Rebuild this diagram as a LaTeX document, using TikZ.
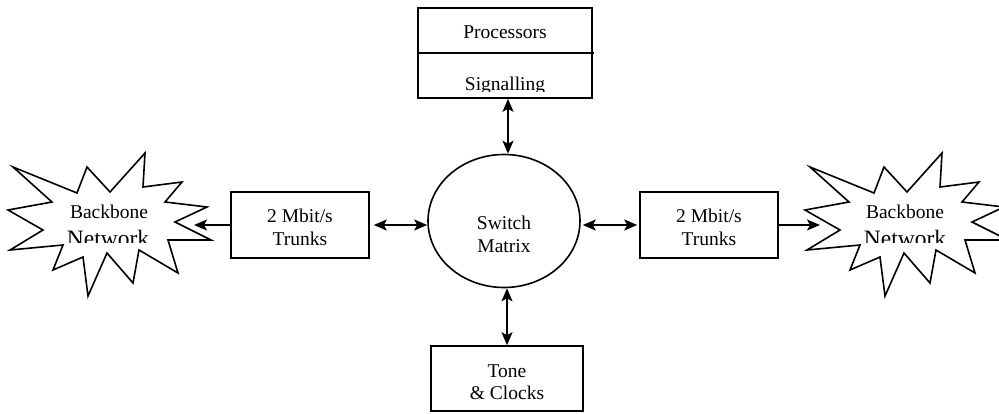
\documentclass[tikz,border=0pt]{standalone}
\usepackage{fontspec}
\setmainfont{Liberation Serif}
\usetikzlibrary{shapes.geometric,arrows.meta}
\def\bbstar{(13,167) -- (77,193) -- (87,167) -- (110,192) -- (145,153) -- (143,187) -- (182,182) -- (165,202) -- (207,207) -- (175,222) -- (211,240) -- (168,240) -- (178,273) -- (139,250) -- (133,283) -- (107,253) -- (88,296) -- (83,257) -- (53,270) -- (63,245) -- (10,250) -- (43,230) -- (8,210) -- (52,202) -- cycle}
\tikzset{
  ln/.style={line width=1.6pt},
  box/.style={ln, draw, rectangle, inner sep=0pt},
  lbl/.style={font=\fontsize{19.5}{23}\selectfont, anchor=base, inner sep=0pt},
  biglbl/.style={font=\fontsize{23.5}{27}\selectfont, anchor=base, inner sep=0pt},
  arr/.style={ln, -{Stealth[length=13pt,width=11pt,inset=3pt]}},
  darr/.style={ln, {Stealth[length=13pt,width=11pt,inset=3pt]}-{Stealth[length=13pt,width=11pt,inset=3pt]}}
}
\begin{document}
\begin{tikzpicture}[x=1pt,y=-1pt]
\useasboundingbox (0,0) rectangle (999,413);
% stars
\draw[ln, line join=miter] \bbstar;
\draw[ln, line join=miter, shift={(797,0)}] \bbstar;
\coordinate (lstar) at (194,225);
\coordinate (rstar) at (820,225);
% nodes
\node[box, minimum width=174pt, minimum height=90pt] (proc) at (505,53) {};
\node[ln, draw, shape=ellipse, minimum width=152pt, minimum height=133pt, inner sep=0pt] (sw) at (504,221) {};
\node[box, minimum width=138pt, minimum height=66pt] (ltrunk) at (300,225) {};
\node[box, minimum width=138pt, minimum height=66pt] (rtrunk) at (709,225) {};
\node[box, minimum width=152pt, minimum height=65pt] (tone) at (507,378.5) {};
\draw[ln] (proc.west) -- ++(177,0);
% texts
\node[lbl] (tproc) at (505,38) {Processors};
\begin{scope}
\clip (400,60) rectangle (600,91);
\node[lbl] (tsig) at (505,90.5) {Signalling};
\end{scope}
\node[lbl] (tsw1) at (504,229) {Switch};
\node[lbl] (tsw2) at (504,252) {Matrix};
\node[lbl] (tl1) at (300,222) {2 Mbit/s};
\node[lbl] (tl2) at (300,245) {Trunks};
\node[lbl] (tr1) at (709,222) {2 Mbit/s};
\node[lbl] (tr2) at (709,245) {Trunks};
\node[lbl] (tt1) at (507,377) {Tone};
\node[lbl] (tt2) at (507,399) {\& Clocks};
\node[lbl] (tb1) at (109,218) {Backbone};
\node[lbl] (tb2) at (905,218) {Backbone};
\begin{scope}
\clip (0,100) rectangle (999,242);
\node[biglbl] (tn1) at (108,246) {Network};
\node[biglbl] (tn2) at (905,246) {Network};
\end{scope}
% connectors
\draw[arr] (ltrunk.west) -- (lstar);
\draw[arr] (rtrunk.east) -- (rstar);
\draw[darr] ([xshift=4pt]ltrunk.east) -- (sw.west |- ltrunk.east);
\draw[darr] ([xshift=2pt]sw.east |- rtrunk.west) -- ([xshift=-2pt]rtrunk.west);
\draw[darr] ([xshift=3pt]proc.south) -- ([xshift=3pt]proc.south |- sw.north);
\draw[darr] (sw.south -| tone.north) -- (tone.north);
\end{tikzpicture}
\end{document}
